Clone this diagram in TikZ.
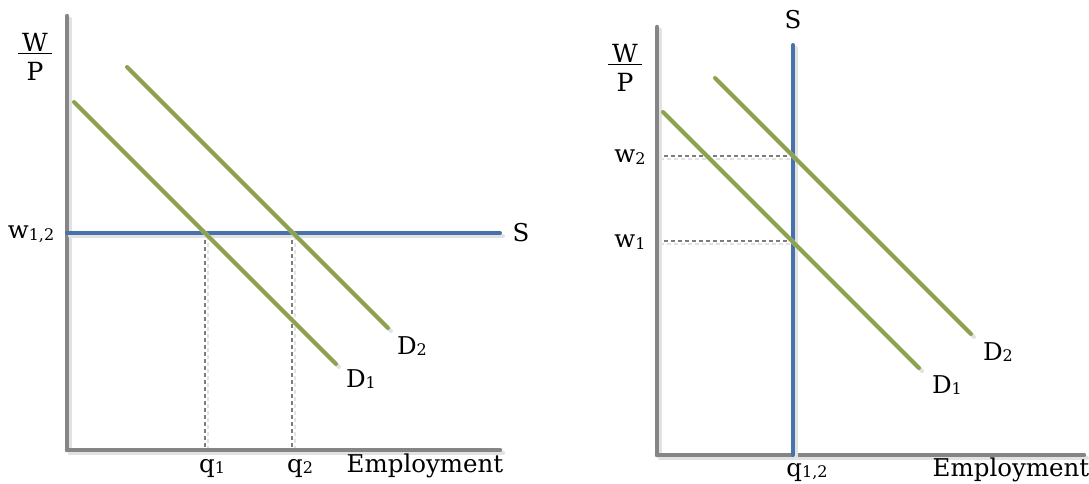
\documentclass[tikz,border=0pt]{standalone}
\usepackage{fontspec}
\setmainfont{DejaVu Serif}
\usetikzlibrary{positioning}
\definecolor{axCol}{HTML}{858585}
\definecolor{shCol}{HTML}{E2E2E2}
\definecolor{supCol}{HTML}{4674A8}
\definecolor{demCol}{HTML}{8CA24F}
\definecolor{refCol}{HTML}{7C7C7C}
\tikzset{
  axis/.style={draw=axCol, line width=4.5pt, line cap=round},
  supply/.style={draw=supCol, line width=4pt, line cap=round},
  demand/.style={draw=demCol, line width=4pt, line cap=round},
  guide/.style={draw=refCol, line width=2.2pt, dash pattern=on 4pt off 3pt},
  lbl/.style={font=\fontsize{24.5}{26}\selectfont, inner sep=0pt},
  frac/.style={font=\fontsize{25}{26}\selectfont, inner sep=0pt, align=center},
}
\newcommand{\low}[1]{\raisebox{-0.12ex}{\fontsize{16}{16}\selectfont #1}}
\newcommand{\wageratio}{\underline{\,W\,}\\[3pt]P}
% line with its light drop shadow
\newcommand{\shline}[3]{%
  \draw[#1, draw=shCol] ([shift={(3,3)}]#2) -- ([shift={(3,3)}]#3);
  \draw[#1] (#2) -- (#3);}

\begin{document}
\begin{tikzpicture}[x=1pt, y=-1pt]
  \useasboundingbox (0,0) rectangle (1089,483);

  % ---- left panel: flat supply
  \coordinate (oL) at (67,450);
  \coordinate (yL) at (67,16);
  \coordinate (xL) at (500,450);
  \coordinate (sLa) at (67,233);
  \coordinate (sLb) at (500,233);
  \coordinate (dLa) at (74,102);  \coordinate (dLb) at (336,364);
  \coordinate (eLa) at (127,67);  \coordinate (eLb) at (388,328);
  \coordinate (qLa) at (205,233); \coordinate (fLa) at (205,450);
  \coordinate (qLb) at (292,233); \coordinate (fLb) at (292,450);

  \shline{guide}{qLa}{fLa}
  \shline{guide}{qLb}{fLb}
  \shline{axis}{yL}{oL}
  \shline{axis}{oL}{xL}
  \shline{supply}{sLa}{sLb}
  \shline{demand}{dLa}{dLb}
  \shline{demand}{eLa}{eLb}

  \node[frac] (wpL) at (35,57) {\wageratio};
  \node[lbl] (wL) at (31,234) {w\low{1,2}};
  \node[lbl] (sL) at (521,233) {S};
  \node[lbl] (d1L) at (361,379) {D\low{1}};
  \node[lbl] (d2L) at (412,346) {D\low{2}};
  \node[lbl, anchor=base] (q1L) at (212,472) {q\low{1}};
  \node[lbl, anchor=base] (q2L) at (300,472) {q\low{2}};
  \node[lbl, anchor=base] (empL) at (425,472) {Employment};

  % ---- right panel: vertical supply
  \coordinate (oR) at (657,455);
  \coordinate (yR) at (657,27);
  \coordinate (xR) at (1084,455);
  \coordinate (sRa) at (793,45);
  \coordinate (sRb) at (793,455);
  \coordinate (dRa) at (663,112); \coordinate (dRb) at (919,368);
  \coordinate (eRa) at (715,78);  \coordinate (eRb) at (971,334);
  \coordinate (wRa) at (657,156); \coordinate (pRa) at (793,156);
  \coordinate (wRb) at (657,241); \coordinate (pRb) at (793,241);

  \shline{guide}{wRa}{pRa}
  \shline{guide}{wRb}{pRb}
  \shline{axis}{yR}{oR}
  \shline{axis}{oR}{xR}
  \shline{supply}{sRa}{sRb}
  \shline{demand}{dRa}{dRb}
  \shline{demand}{eRa}{eRb}

  \node[frac] (wpR) at (625,68) {\wageratio};
  \node[lbl] (sR) at (793,20) {S};
  \node[lbl] (w2R) at (630,157) {w\low{2}};
  \node[lbl] (w1R) at (630,242) {w\low{1}};
  \node[lbl] (d1R) at (947,385) {D\low{1}};
  \node[lbl] (d2R) at (998,352) {D\low{2}};
  \node[lbl, anchor=base] (qR) at (807,476) {q\low{1,2}};
  \node[lbl, anchor=base] (empR) at (1011,476) {Employment};
\end{tikzpicture}
\end{document}
